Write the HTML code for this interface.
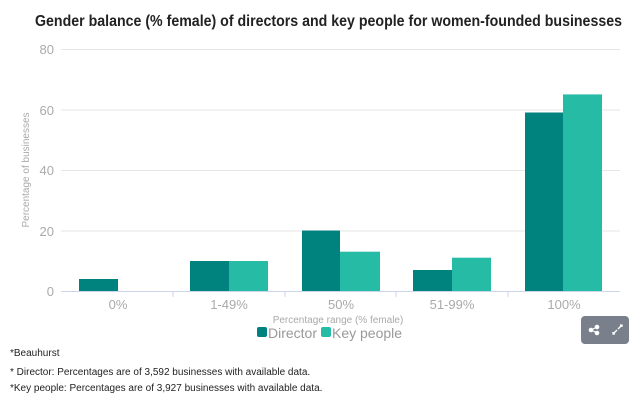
<!DOCTYPE html>
<html><head><style>
body{margin:0;background:#fff;width:640px;height:405px;overflow:hidden;font-family:"Liberation Sans",sans-serif}
</style></head><body>
<svg width="640" height="405" xmlns="http://www.w3.org/2000/svg" font-family="Liberation Sans, sans-serif">
<text x="35" y="26" textLength="587" lengthAdjust="spacingAndGlyphs" font-size="15.5" font-weight="bold" fill="#222">Gender balance (% female) of directors and key people for women-founded businesses</text>
<g stroke="#e6e6e6" stroke-width="1">
<line x1="61" x2="620" y1="49.5" y2="49.5"/>
<line x1="61" x2="620" y1="110" y2="110"/>
<line x1="61" x2="620" y1="170.5" y2="170.5"/>
<line x1="61" x2="620" y1="231" y2="231"/>
</g>
<line x1="61" x2="620" y1="291.5" y2="291.5" stroke="#ccd6eb"/>
<g stroke="#ccd6eb"><line x1="173" x2="173" y1="291" y2="297"/><line x1="285" x2="285" y1="291" y2="297"/><line x1="396" x2="396" y1="291" y2="297"/><line x1="508" x2="508" y1="291" y2="297"/></g>
<g font-size="13" fill="#aaa" text-anchor="end">
<text x="54" y="54">80</text><text x="54" y="115">60</text><text x="54" y="175">40</text><text x="54" y="236">20</text><text x="54" y="296">0</text>
</g>
<text transform="translate(29,170) rotate(-90)" text-anchor="middle" font-size="10" fill="#aaa">Percentage of businesses</text>
<g fill="#00827f">
<rect x="79" y="279" width="39" height="12"/>
<rect x="190" y="261" width="39" height="30"/>
<rect x="302" y="230.5" width="38" height="60.5"/>
<rect x="413" y="270" width="39" height="21"/>
<rect x="525" y="112.5" width="38" height="178.5"/>
</g>
<g fill="#26bba5">
<rect x="229" y="261" width="39" height="30"/>
<rect x="340" y="251.7" width="40" height="39.3"/>
<rect x="452" y="257.7" width="39" height="33.3"/>
<rect x="563" y="94.4" width="39" height="196.6"/>
</g>
<g font-size="13" fill="#aaa" text-anchor="middle">
<text x="118" y="309">0%</text><text x="229" y="309">1-49%</text><text x="341" y="309">50%</text><text x="452" y="309">51-99%</text><text x="564" y="309">100%</text>
</g>
<text x="338" y="323" text-anchor="middle" font-size="10" fill="#aaa">Percentage range (% female)</text>
<rect x="257" y="327" width="10" height="10" rx="2" fill="#00827f"/>
<text x="268" y="338" font-size="14" fill="#999">Director</text>
<rect x="321" y="327" width="10" height="10" rx="2" fill="#26bba5"/>
<text x="332" y="338" font-size="14" fill="#999">Key people</text>
<rect x="581" y="316" width="48" height="28" rx="4" fill="#7a7f8c"/>
<g fill="#fff" stroke="#fff"><circle cx="597" cy="327" r="1.8"/><circle cx="591" cy="330" r="1.8"/><circle cx="597" cy="333" r="1.8"/><line x1="591" y1="330" x2="597" y2="327"/><line x1="591" y1="330" x2="597" y2="333"/>
<path d="M613 334 l4 -4 M618 329 l4 -4 M620 325 h2 v2 M613 332 v2 h2" stroke-width="1.3" fill="none"/></g>
<g font-size="10" fill="#222">
<text x="10" y="356">*Beauhurst</text>
<text x="10" y="375">* Director: Percentages are of 3,592 businesses with available data.</text>
<text x="10" y="391">*Key people: Percentages are of 3,927 businesses with available data.</text>
</g>
</svg>
</body></html>
